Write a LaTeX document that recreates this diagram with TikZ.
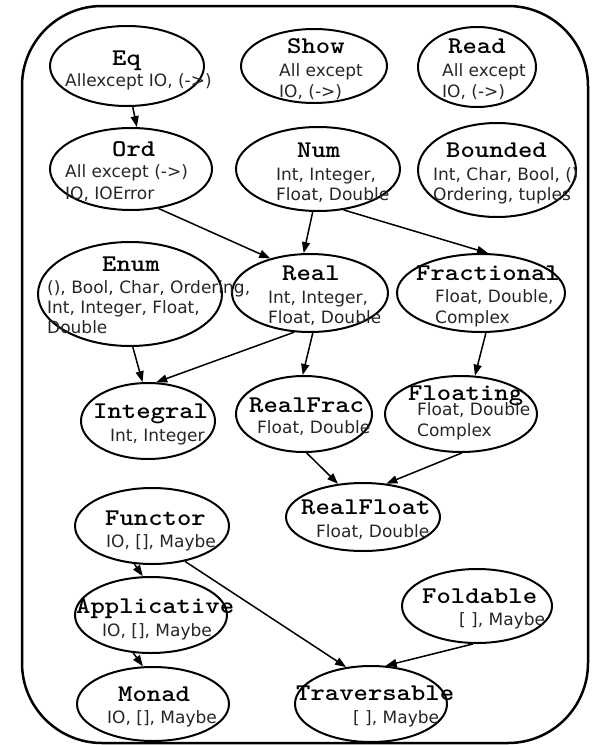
\documentclass[tikz,border=0pt]{standalone}
\usepackage{fontspec}
\setmainfont{DejaVu Sans}
\newfontfamily\monofnt{lmmonolt10-bold.otf}[FakeStretch=1.14]
\usetikzlibrary{arrows.meta,shapes.geometric}

\begin{document}
\begin{tikzpicture}[x=1pt,y=-1pt,line join=round,
  cls/.style={draw,ellipse,line width=2pt,inner sep=0pt},
  ttl/.style={anchor=base west,inner sep=0pt,font=\monofnt\fontsize{24}{24}\selectfont},
  inst/.style={anchor=base west,inner sep=0pt,text=black!85,font=\fontsize{17}{17}\selectfont},
  isa/.style={-{Triangle[length=11pt,width=8pt]},line width=1.5pt}]
\useasboundingbox (0,0) rectangle (594,745);
\draw[line width=2.5pt,rounded corners=80pt] (22,6) rectangle (588,743);
% classes
\foreach \n/\x/\y/\a/\b in {Eq/127/66/77/40,Show/314/66/73/37,Read/477/67/59/40,
  Ord/131/169/81/41,Num/318/169/82/42,Bounded/497/170/79/47,
  Enum/130/294/92/52,Real/310/293/78/39,Fractional/481/293/84/39,
  Integral/148/421/67/38,RealFrac/304/414/68/38,Floating/461/414/76/38,
  RealFloat/363/517/77/34,Functor/152/526/77/38,Applicative/151/615/76/38,
  Monad/153/704/76/37,Foldable/477/606/75/37,Traversable/371/704/76/38}
  {\node[cls,minimum width={2*\a pt},minimum height={2*\b pt}] (\n) at (\x,\y) {};}
% class names
\foreach \n/\x/\y in {Eq/112/65,Show/287/53,Read/448/53,Ord/112/156,Num/297/157,
  Bounded/446/157,Enum/102/271,Real/282/280,Fractional/416/280,Integral/93/418,
  RealFrac/249/412,Floating/408/400,RealFloat/301/514,Functor/105/525,
  Applicative/76/613,Monad/118/701,Foldable/422/603,Traversable/296/700}
  {\node[ttl] (\n-t) at (\x,\y) {\n};}
% instances
\foreach \n/\x/\y/\lbl in {Eq-a/65/86/{Allexcept IO, (->)},
  Show-a/279/76/{All except},Show-b/279/97/{IO, (->)},
  Read-a/442/76/{All except},Read-b/442/97/{IO, (->)},
  Ord-a/65/177/{All except (->)},Ord-b/65/199/{IO, IOError},
  Num-a/276/180/{Int, Integer,},Num-b/276/200/{Float, Double},
  Bounded-a/433/180/{Int, Char, Bool, ()},Bounded-b/433/200/{Ordering, tuples},
  Enum-a/47/293/{(), Bool, Char, Ordering,},Enum-b/47/313/{Int, Integer, Float,},Enum-c/47/333/{Double},
  Real-a/268/303/{Int, Integer,},Real-b/268/323/{Float, Double},
  Fractional-a/435/302/{Float, Double,},Fractional-b/435/323/{Complex},
  Integral-a/110/441/{Int, Integer},RealFrac-a/257/433/{Float, Double},
  Floating-a/417/415/{Float, Double},Floating-b/417/436/{Complex},
  RealFloat-a/316/537/{Float, Double},
  Functor-a/106/547/{IO, [], Maybe},Applicative-a/102/636/{IO, [], Maybe},
  Monad-a/107/723/{IO, [], Maybe},
  Foldable-a/459/625/{[ ], Maybe},Traversable-a/353/723/{[ ], Maybe}}
  {\node[inst] (\n) at (\x,\y) {\lbl};}
% superclass arrows
\draw[isa] (Eq.-82) -- (Ord.82);
\draw[isa] (Ord.-55) -- (Real.139);
\draw[isa] (Num.-97) -- (Real.99);
\draw[isa] (Num.-58) -- (Fractional.80);
\draw[isa] (Enum.-87) -- (Integral.98);
\draw[isa] (Real.-112) -- (Integral.78);
\draw[isa] (Real.-86) -- (RealFrac.92);
\draw[isa] (Fractional.-83) -- (Floating.70);
\draw[isa] (RealFrac.-86) -- (RealFloat.127);
\draw[isa] (Floating.-89) -- (RealFloat.55);
\draw[isa] (Functor.-115) -- (Applicative.102);
\draw[isa] (Functor.-47) -- (Traversable.124);
\draw[isa] (Applicative.-115) -- (Monad.105);
\draw[isa] (Foldable.-96) -- (Traversable.69);
\end{tikzpicture}
\end{document}
